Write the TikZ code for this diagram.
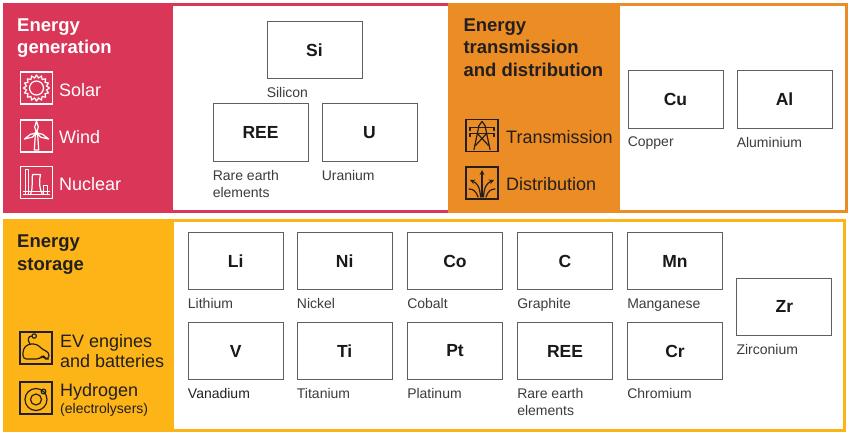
\documentclass[tikz,border=0pt]{standalone}
\usepackage{fontspec}
\setmainfont{Liberation Sans}
\usepackage{xcolor}
\usepackage{tikz}
\usetikzlibrary{shapes.geometric,arrows,positioning,calc}

\definecolor{genred}{RGB}{218,55,88}
\definecolor{transorange}{RGB}{236,140,36}
\definecolor{storeyellow}{RGB}{252,180,23}
\definecolor{inkdark}{RGB}{35,31,32}
\definecolor{boxgray}{RGB}{95,95,95}
\definecolor{labgray}{RGB}{60,60,60}

\tikzset{
  elem/.style={draw=boxgray, line width=0.9pt, fill=white, minimum width=95pt,
    minimum height=57.5pt, inner sep=0pt, text=black!90,
    font=\fontsize{17.5}{20}\selectfont\bfseries},
  elabel/.style={anchor=north west, inner sep=0pt, yshift=-8pt, align=left,
    text=labgray, font=\fontsize{14}{17}\selectfont},
  heading/.style={anchor=north west, inner sep=0pt, align=left,
    font=\fontsize{18.5}{22.3}\selectfont\bfseries},
  usetext/.style={anchor=north west, inner sep=0pt, align=left,
    font=\fontsize{18}{20.5}\selectfont},
  iconbox/.style={draw, line width=1.3pt, minimum size=32pt, inner sep=0pt},
  pict/.style={line width=1.2pt, line join=round, line cap=round}
}

\begin{document}
\begin{tikzpicture}[x=1pt,y=-1pt]
\fill[white] (0,0) rectangle (850,432);
\useasboundingbox (0,0) rectangle (850,432);

% panels
\fill[genred] (2.5,3) rectangle (448.5,212.5);
\fill[white] (173,6) rectangle (448.5,209.5);
\fill[transorange] (448,3) rectangle (848,212.5);
\fill[white] (620,6) rectangle (845,209.5);
\fill[storeyellow] (2.5,218.5) rectangle (846,431.5);
\fill[white] (174,222) rectangle (843,429);

% energy generation
\node[heading, text=white] (genhead) at (17,18.3) {Energy\\generation};
\node[iconbox, draw=white] (solar) at (36.5,88) {};
\node[iconbox, draw=white] (wind) at (36.5,136) {};
\node[iconbox, draw=white] (nuclear) at (36.5,182.5) {};
\node[usetext, text=white] (solarlab) at (59,83.6) {Solar};
\node[usetext, text=white] (windlab) at (59,130.2) {Wind};
\node[usetext, text=white] (nuclearlab) at (59,176.9) {Nuclear};

\begin{scope}[shift={(solar.center)}, pict, draw=white]
  \node[star, star points=16, star point ratio=1.28, draw=white, line width=1.2pt,
    minimum size=26pt, inner sep=0pt] (sun) at (0,0) {};
  \draw (0,0) circle (7pt);
\end{scope}
\begin{scope}[shift={(wind.center)}, pict, draw=white]
  \draw (-1.2,-1) -- (-2.2,14) -- (2.2,14) -- (1.2,-1);
  \draw (0,-3) -- (-1.8,-9) -- (0,-15) -- (1.8,-9) -- cycle;
  \draw (0,-3) -- (-4.3,1.2) -- (-12,3) -- (-6.1,-1.7) -- cycle;
  \draw (0,-3) -- (4.3,1.2) -- (12,3) -- (6.1,-1.7) -- cycle;
  \draw (0,-3) circle (1.6pt);
\end{scope}
\begin{scope}[shift={(nuclear.center)}, pict, draw=white]
  \draw (-13,12) -- (13,12);
  \draw (-11,12) -- (-11,-13) -- (-8,-13) -- (-8,12);
  \draw (-6,12) .. controls (-3,4) and (-5,-3) .. (-4,-8) -- (4,-8)
    .. controls (3,-3) and (2,4) .. (6,12);
  \draw (7,12) -- (7,3) -- (11,3) -- (11,12);
  \draw (-13,9) -- (13,9);
\end{scope}

% energy transmission and distribution
\node[heading, text=inkdark] (transhead) at (463.3,18.5) {Energy\\transmission\\and distribution};
\node[iconbox, draw=inkdark] (tline) at (482,135.5) {};
\node[iconbox, draw=inkdark] (distr) at (482,183) {};
\node[usetext, text=inkdark] (tlinelab) at (506,129.8) {Transmission};
\node[usetext, text=inkdark] (distrlab) at (506,176.9) {Distribution};

\begin{scope}[shift={(tline.center)}, pict, draw=inkdark]
  \draw (-3,-10) -- (0,-14) -- (3,-10);
  \draw (-3,-10) -- (-8,14);
  \draw (3,-10) -- (8,14);
  \draw (-12,-8) -- (12,-8);
  \draw (-12,-2) -- (12,-2);
  \draw (-12,-8) -- (-12,-5);
  \draw (12,-8) -- (12,-5);
  \draw (-12,-2) -- (-12,1);
  \draw (12,-2) -- (12,1);
  \draw (-4.6,-2) -- (6.5,10);
  \draw (4.6,-2) -- (-6.5,10);
\end{scope}
\begin{scope}[shift={(distr.center)}, pict, draw=inkdark]
  \draw[-stealth] (0,14) -- (0,-13);
  \draw[-stealth] (-1.5,14) .. controls (-2,4) and (-5,0) .. (-12,-3);
  \draw[-stealth] (1.5,14) .. controls (2,4) and (5,0) .. (12,-3);
  \draw (-4,14) .. controls (-6,8) and (-9,6) .. (-13,6);
  \draw (4,14) .. controls (6,8) and (9,6) .. (13,6);
\end{scope}

% energy storage
\node[heading, text=inkdark] (storehead) at (17,235) {Energy\\storage};
\node[iconbox, draw=inkdark] (ev) at (36,348) {};
\node[iconbox, draw=inkdark] (hydro) at (36,398) {};
\node[usetext, text=inkdark] (evlab) at (60,333.8) {EV engines\\and batteries};
\node[usetext, text=inkdark] (hydrolab) at (60,383.6)
  {Hydrogen\\[-4pt]{\fontsize{14}{16}\selectfont(electrolysers)}};

\begin{scope}[shift={(ev.center)}, pict, draw=inkdark]
  \draw[rounded corners=3.5pt] (-13,11) -- (-13,1) -- (-8,-4) -- (1,-4)
    -- (7,2) -- (13,4) -- (13,11) -- (9,11) -- (7,7) -- (4,11) -- cycle;
  \draw (-6,-4) .. controls (-9,-8) and (-8,-12) .. (-4,-12);
  \draw (-1.8,-12) circle (2.2pt);
\end{scope}
\begin{scope}[shift={(hydro.center)}, pict, draw=inkdark]
  \draw (0,1.5) circle (11pt);
  \draw (0,1.5) circle (5.5pt);
  \draw (7.5,-6.5) circle (2.4pt);
\end{scope}

% generation elements
\node[elem] (si) at (314.5,50) {Si};
\node[elabel] (silab) at (si.south west) {Silicon};
\node[elem] (reegen) at (260.5,132.5) {REE};
\node[elabel] (reegenlab) at (reegen.south west) {Rare earth\\elements};
\node[elem] (u) at (369.5,132.5) {U};
\node[elabel] (ulab) at (u.south west) {Uranium};

% transmission elements
\node[elem] (cu) at (675.5,99.5) {Cu};
\node[elabel] (culab) at (cu.south west) {Copper};
\node[elem] (al) at (784.5,99.5) {Al};
\node[elabel] (allab) at (al.south west) {Aluminium};

% storage elements
\node[elem] (li) at (235.7,261) {Li};
\node[elabel] (lilab) at (li.south west) {Lithium};
\node[elem] (ni) at (344.7,261) {Ni};
\node[elabel] (nilab) at (ni.south west) {Nickel};
\node[elem] (co) at (455,261) {Co};
\node[elabel] (colab) at (co.south west) {Cobalt};
\node[elem] (c) at (565,261) {C};
\node[elabel] (clab) at (c.south west) {Graphite};
\node[elem] (mn) at (675,261) {Mn};
\node[elabel] (mnlab) at (mn.south west) {Manganese};
\node[elem] (zr) at (784.3,306.7) {Zr};
\node[elabel] (zrlab) at (zr.south west) {Zirconium};
\node[elem] (v) at (235.7,351) {V};
\node[elabel, text=inkdark] (vlab) at (v.south west) {Vanadium};
\node[elem] (ti) at (344.7,351) {Ti};
\node[elabel] (tilab) at (ti.south west) {Titanium};
\node[elem] (pt) at (455,351) {Pt};
\node[elabel] (ptlab) at (pt.south west) {Platinum};
\node[elem] (reesto) at (565,351) {REE};
\node[elabel] (reestolab) at (reesto.south west) {Rare earth\\elements};
\node[elem] (cr) at (675,351) {Cr};
\node[elabel] (crlab) at (cr.south west) {Chromium};
\end{tikzpicture}
\end{document}
